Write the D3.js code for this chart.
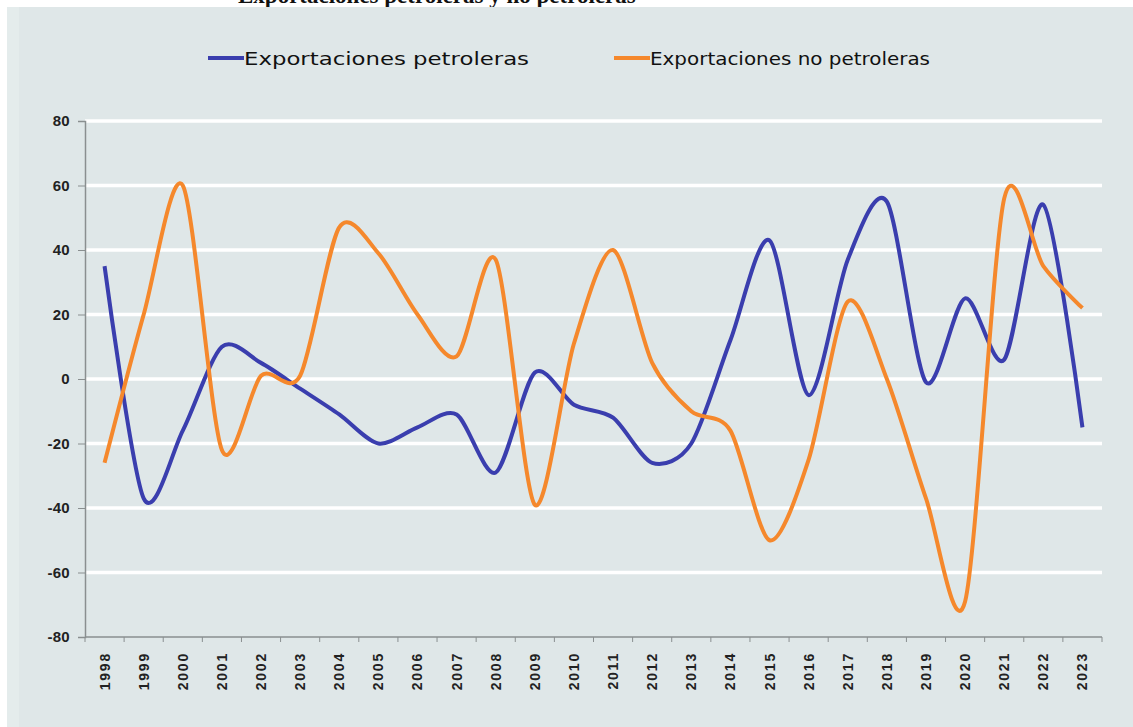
<!DOCTYPE html>
<html>
<head>
<meta charset="utf-8">
<script src="https://cdn.jsdelivr.net/npm/d3@7"></script>
<style>
  body { margin: 0; background: #fff; }
  svg { display: block; }
</style>
</head>
<body>
<svg id="Diagram" width="1133" height="727"></svg>
<script>
// data
var years = ["1998","1999","2000","2001","2002","2003","2004","2005","2006","2007","2008","2009","2010",
             "2011","2012","2013","2014","2015","2016","2017","2018","2019","2020","2021","2022","2023"];
var petroleras = [35, -37, -16, 10, 5, -3, -11, -20, -15, -11, -29, 2, -8,
                  -12, -26, -20, 12, 43, -5, 37, 55, -1, 25, 6, 54, -15];
var noPetroleras = [-26, 20, 60, -22, 1, 1, 47, 39, 20, 7, 37, -39, 11,
                    40, 5, -10, -16, -50, -25, 24, 0, -37, -69, 56, 35, 22];
var yTicks = [80, 60, 40, 20, 0, -20, -40, -60, -80];
var seriesNames = ["Exportaciones petroleras", "Exportaciones no petroleras"];
var colors = ["#3a3eae", "#f5882c"];

var svg = d3.select("#Diagram");

// title, cut off at the top like in the source
svg.append("text")
    .attr("x", 238).attr("y", 3)
    .attr("font-family", "Liberation Serif")
    .attr("font-weight", "bold")
    .attr("font-size", 23)
    .attr("fill", "#111")
    .text("Exportaciones petroleras y no petroleras");

// background panel
svg.append("rect").attr("x", 7).attr("y", 7).attr("width", 1126).attr("height", 720).attr("fill", "#dfe7e8");
svg.append("rect").attr("x", 7).attr("y", 7).attr("width", 12).attr("height", 720).attr("fill", "#e4ecec");

var margin = {left: 85, right: 31, top: 121, bottom: 90};
var width = 1133 - margin.left - margin.right,
    height = 727 - margin.top - margin.bottom;

var g = svg.append("g").attr("transform", "translate(" + margin.left + "," + margin.top + ")");

var x = d3.scaleBand().domain(years).range([0, width]);
var y = d3.scaleLinear().domain([-80, 80]).range([516, 0]);

// gridlines
g.append("g").selectAll("line")
    .data(yTicks.filter(function(d) { return d !== -80; }))
    .enter().append("line")
    .attr("x1", 0).attr("x2", width)
    .attr("y1", function(d) { return y(d); })
    .attr("y2", function(d) { return y(d); })
    .attr("stroke", "#ffffff")
    .attr("stroke-width", 3.5);

// Y axis
var yAxis = g.append("g")
    .call(d3.axisLeft(y).tickValues(yTicks).tickSize(7).tickPadding(8).tickFormat(d3.format("d")));
yAxis.select(".domain").attr("stroke", "#8a8f90").attr("stroke-width", 1.5);
yAxis.selectAll(".tick line").attr("stroke", "#8a8f90");
yAxis.selectAll("text")
    .attr("font-family", "Liberation Sans")
    .attr("font-size", 15)
    .attr("font-weight", "bold")
    .attr("letter-spacing", 0.3)
    .attr("fill", "#222")
    .text(function(d) { return d < 0 ? "-" + Math.abs(d) : d; });

// X axis with ticks at category boundaries
var xAxisG = g.append("g").attr("transform", "translate(0," + y(-80) + ")");
xAxisG.append("line").attr("x1", 0).attr("x2", width).attr("stroke", "#8a8f90").attr("stroke-width", 1.5);
xAxisG.selectAll(".bound")
    .data(years.concat(["end"]))
    .enter().append("line")
    .attr("x1", function(d, i) { return i * x.step(); })
    .attr("x2", function(d, i) { return i * x.step(); })
    .attr("y1", 0).attr("y2", 5)
    .attr("stroke", "#8a8f90");
xAxisG.selectAll("text")
    .data(years)
    .enter().append("text")
    .attr("transform", function(d) {
        return "translate(" + (x(d) + x.bandwidth() / 2 + 5) + ",15) rotate(-90)";
    })
    .attr("text-anchor", "end")
    .attr("font-family", "Liberation Sans")
    .attr("font-size", 14)
    .attr("font-weight", "bold")
    .attr("letter-spacing", 1.8)
    .attr("fill", "#222")
    .text(function(d) { return d; });

// lines
var line = d3.line()
    .x(function(d, i) { return x(years[i]) + x.bandwidth() / 2; })
    .y(function(d) { return y(d); })
    .curve(d3.curveCardinal.tension(0.15));

[petroleras, noPetroleras].forEach(function(s, i) {
    g.append("path")
        .datum(s)
        .attr("d", line)
        .attr("fill", "none")
        .attr("stroke", colors[i])
        .attr("stroke-width", 4)
        .attr("stroke-linejoin", "round");
});

// legend
var legendX = [208, 614];
var legend = svg.append("g");
seriesNames.forEach(function(name, i) {
    legend.append("line")
        .attr("x1", legendX[i]).attr("x2", legendX[i] + 36)
        .attr("y1", 58).attr("y2", 58)
        .attr("stroke", colors[i]).attr("stroke-width", 4);
    legend.append("text")
        .attr("x", legendX[i] + 36).attr("y", 65)
        .attr("font-family", "DejaVu Sans")
        .attr("font-size", 18)
        .attr("fill", "#111")
        .attr("textLength", i === 0 ? 285 : 280)
        .attr("lengthAdjust", "spacingAndGlyphs")
        .text(name);
});
</script>
</body>
</html>
